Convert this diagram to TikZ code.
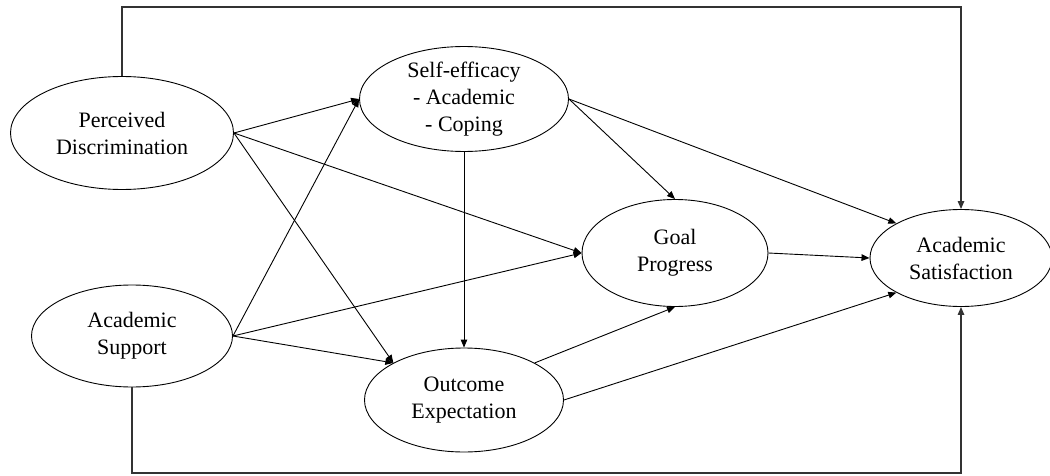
\documentclass[tikz,border=0pt]{standalone}
\usepackage{fontspec}
\setmainfont{Liberation Serif}
\usetikzlibrary{arrows.meta,shapes.geometric}
\begin{document}
\begin{tikzpicture}[x=1pt,y=1pt,
  var/.style={draw, ellipse, line width=0.9pt, inner sep=0pt, align=center,
    font=\fontsize{22}{27}\selectfont},
  path/.style={draw, line width=0.9pt, -{Triangle[length=8pt,width=6.5pt]}},
  frame/.style={draw, black!80, line width=1.3pt, -{Triangle[length=8pt,width=6.5pt]}}]
\useasboundingbox (0,0) rectangle (1050,475);
\node[var, minimum width=223pt, minimum height=113pt] (PD) at (122,342) {Perceived\\Discrimination};
\node[var, minimum width=201pt, minimum height=102pt] (AS) at (132,139) {Academic\\Support};
\node[var, minimum width=209pt, minimum height=100pt] (SE) at (464,376) {Self-efficacy\\- Academic\\- Coping};
\node[var, minimum width=199pt, minimum height=104pt] (OE) at (464,75) {Outcome\\Expectation};
\node[var, minimum width=186pt, minimum height=107pt] (GP) at (675,222) {Goal\\Progress};
\node[var, minimum width=182pt, minimum height=97pt] (AcS) at (961,217) {Academic\\Satisfaction};
\coordinate (top) at (961,468);
\coordinate (bot) at (961,2);
\draw[frame] (PD.north) |- (top) -- (AcS.north);
\draw[frame] (AS.south) |- (bot) -- (AcS.south);
\draw[path] (PD.east) -- (SE.west);
\draw[path] (PD.east) -- (GP.west);
\draw[path] (PD.east) -- (OE.north west);
\draw[path] (AS.east) -- (SE.west);
\draw[path] (AS.east) -- (GP.west);
\draw[path] (AS.east) -- (OE.north west);
\draw[path] (SE.south) -- (OE.north);
\draw[path] (SE.east) -- (GP.north);
\draw[path] (SE.east) -- (AcS.north west);
\draw[path] (GP.east) -- (AcS.west);
\draw[path] (OE.north east) -- (GP.south);
\draw[path] (OE.east) -- (AcS.south west);
\end{tikzpicture}
\end{document}
